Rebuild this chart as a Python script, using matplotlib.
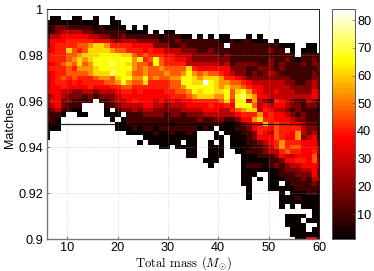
import matplotlib

matplotlib.use("Agg")
import matplotlib.pyplot as plt
import numpy as np
from matplotlib.colors import LinearSegmentedColormap

# each char is one cell, "." = empty, 0..9/a/b index into level_values
rows = [
    ".......... .......... .......... .......... ..........",
    ".......... .......... .......... .......... ..........",
    ".00..00..0 ..0",
    "0000000000 ..00",
    "0122111110 10000.0.0",
    "0123333221 111110000. 0.00",
    "1334444433 2211211111 1011100.0. 0.00...0.0",
    "2444555554 4432333222 2111211111 1100101100 0.0",
    "2455556678 8755554444 2221121111 111.111111 111000..00",
    "3455865688 8876655545 4433322211 2111111111 1211.0.000",
    "4555667888 9999886565 5544333222 2212111111 111111.1111",
    "4555678789 9999997956 9655443222 2222111111 12112101121",
    "3456768679 99a9987665 9655553333 3323122221 12121112122",
    "4555657778 9999997676 6766668544 4444222112 22121111112",
    "3455666678 88a9986676 6676679767 6654322121 23211111121",
    "3456565556 7768997796 7667799878 8875543222 22222111122",
    "3455454555 5667976685 555669988b 9877665433 33332211232",
    "3445444454 4455665555 5556679999 9878776544 33333222232",
    "3443322332 3334554544 4455667989 9889689754 33433322243",
    "2343222121 2223444444 4445556788 877969a874 43333333343",
    "244221111. 1123345444 3434344555 5568599373 21543211321",
    "2342111... .112333344 3323334444 5445499963 43443221221",
    "1231100... .0.1223233 2222233334 4433567883 54332121110",
    "1110..00.. .000.11122 2212212223 3333345557 45443212111",
    "110....... ..0.011111 1111111121 1221124478 55444322111",
    "010....... ...0011111 1110111111 1110012344 85655443221",
    "000....... ...0001011 0111111101 0.00011245 54655553221",
    "0......... .....00000 10010010.. .0.0001125 43655473231",
    "0......... ........00 00000000.. .00.000124 44654472341",
    ".......... .......0.0 00000.00.. 0.0.000112 34575554442",
    ".......... .......... .00.0000.. 000.000011 23575664443",
    ".......... .......... ......00.. 000..00111 23356554453",
    ".......... .......... ......00.. 000...0001 11243344462",
    ".......... .......... .........0 00....0000 01124455463",
    ".......... .......... .......... 0.....0111 01212334443",
    ".......... .......... .......... ......0000 00012223342",
    ".......... .......... .......... ......000. .0011122242",
    ".......... .......... .......... ......00.0 .0001112133",
    ".......... .......... .......... ......00.. .00.0111121",
    ".......... .......... .......... .......0.. .0000011111",
    ".......... .......... .......... .......0.. ...0.000110",
    ".......... .......... .......... .......0.. ...00010000",
    ".......... .......... .......... .......... ...00000000",
    ".......... .......... .......... .......... ...0.0.0000",
    ".......... .......... .......... .......... .........00",
    ".......... .......... .......... .......... ....0000.00",
    ".......... .......... .......... .......... ....000.000",
    ".......... .......... .......... .......... ....0000..0",
    ".......... .......... .......... .......... .....000.00",
    ".......... .......... .......... .......... .....000000",
    ".......... .......... .......... .......... ......00440",
]

level_values = [1, 10, 19, 28, 37, 41, 47, 54, 61, 67, 74, 84]
x_ticks = [10, 20, 30, 40, 50, 60]
y_ticks = [0.9, 0.92, 0.94, 0.96, 0.98, 1]
y_labels = ["0.9", "0.92", "0.94", "0.96", "0.98", "1"]
cbar_ticks = [10, 20, 30, 40, 50, 60, 70, 80]
threshold = 0.95

ncols = 51
grid = np.full((len(rows), ncols), np.nan)
for i, row in enumerate(rows):
    cells = row.replace(" ", "").ljust(ncols, ".")[:ncols]
    for j, c in enumerate(cells):
        if c != ".":
            grid[i, j] = level_values[int(c, 12)]

plt.rcParams["font.family"] = ["Liberation Sans", "DejaVu Sans"]
plt.rcParams["font.size"] = 9.2
plt.rcParams["mathtext.fontset"] = "cm"

fig = plt.figure(figsize=(3.74, 2.71), dpi=100)
ax = fig.add_axes([47 / 374, 32 / 271, 272 / 374, 230 / 271])

# the bar in the picture reaches red near 37 and yellow near 66
cmap = LinearSegmentedColormap.from_list(
    "hot_bar",
    [(0.0, "#0a0000"), (36 / 83, "#ff0000"), (65 / 83, "#ffff00"), (1.0, "#ffffff")],
    N=64,
)
cmap.set_bad("white")
im = ax.imshow(
    np.ma.masked_invalid(grid),
    cmap=cmap,
    vmin=1,
    vmax=84,
    aspect="auto",
    interpolation="nearest",
    extent=[6 - 0.54, 60 + 0.54, 0.899, 1.001],
    origin="upper",
)
ax.set_xlim(6.0, 60)
ax.set_ylim(0.9, 1)
ax.axhline(threshold, color="black", lw=0.9, alpha=0.85)

ax.set_xticks(x_ticks)
ax.set_yticks(y_ticks)
ax.set_yticklabels(y_labels)
ax.grid(True, color="#aaaaaa", linestyle=":", linewidth=0.5, alpha=0.7)
ax.tick_params(direction="in", length=2.5, width=0.5, color="#444444", pad=2.5)

for side in ["top", "right"]:
    ax.spines[side].set_color("#222222")
    ax.spines[side].set_linewidth(0.7)
for side in ["left", "bottom"]:
    ax.spines[side].set_color("#777777")
    ax.spines[side].set_linewidth(1.0)

ax.set_ylabel("Matches", fontsize=9, labelpad=2)
ax.set_xlabel(
    r"Total mass ($M_{\odot}$)", family="cmr10", fontsize=9.2, labelpad=-0.5
)

cax = fig.add_axes([332 / 374, 32 / 271, 23 / 374, 230 / 271])
cbar = fig.colorbar(im, cax=cax, ticks=cbar_ticks)
cbar.ax.tick_params(direction="in", length=2, width=0.4, color="#555555", pad=1.5)
cbar.outline.set_edgecolor("#555555")
cbar.outline.set_linewidth(0.7)

fig.savefig("out.png", dpi=100)
